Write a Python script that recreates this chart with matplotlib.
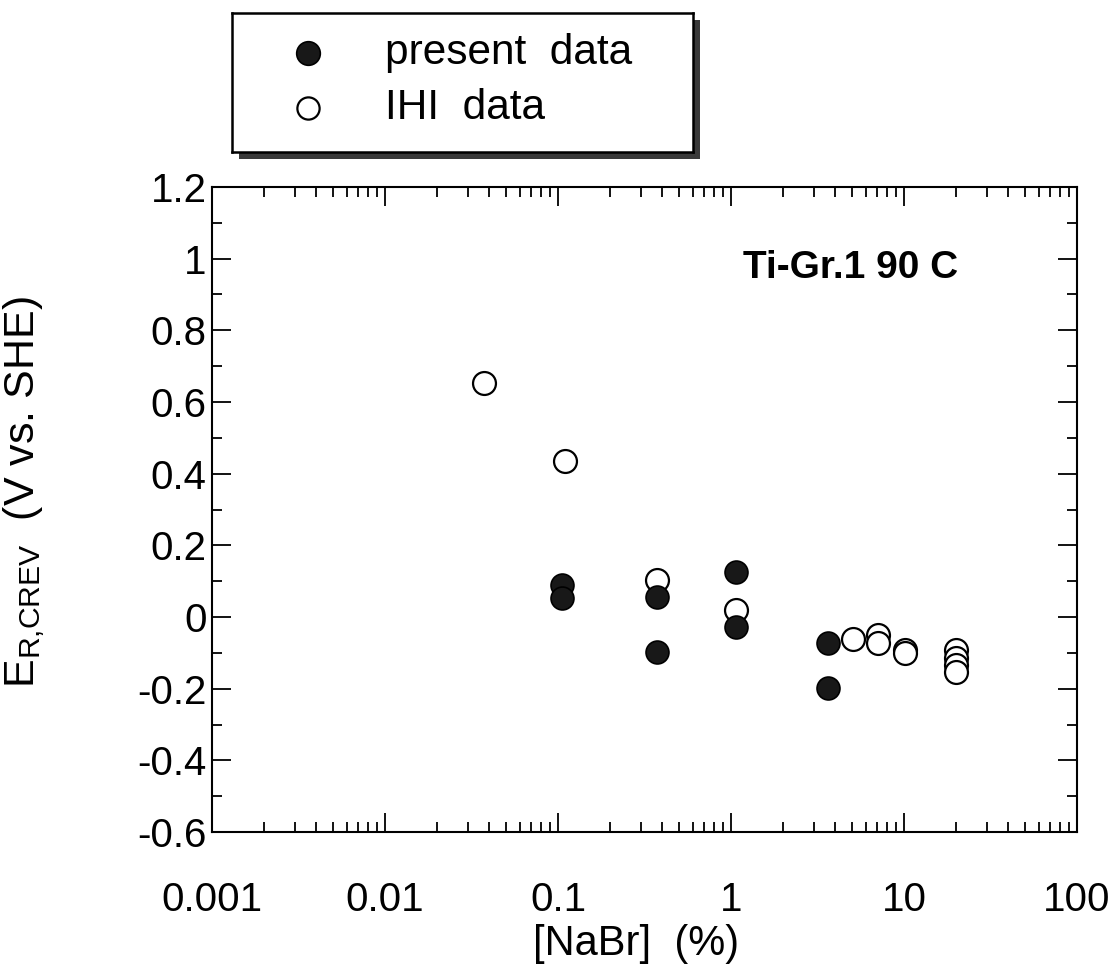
import matplotlib
matplotlib.use("Agg")
import matplotlib.pyplot as plt
import numpy as np
from matplotlib.ticker import LogLocator, NullFormatter, MultipleLocator
from matplotlib.patches import Rectangle

plt.rcParams['font.family'] = ['Liberation Sans', 'DejaVu Sans']

present_x = [0.105, 0.105, 0.373, 0.373, 1.07, 1.07, 3.64, 3.64]
present_y = [0.089, 0.053, 0.056, -0.098, 0.126, -0.028, -0.073, -0.198]

ihi_x = [0.0373, 0.11, 0.373, 1.07, 5.07, 7.08, 7.08, 10.1, 10.1, 19.9, 19.9, 19.9, 19.9]
ihi_y = [0.654, 0.436, 0.103, 0.020, -0.061, -0.050, -0.073, -0.092, -0.100, -0.092, -0.115, -0.134, -0.154]

xticks = [0.001, 0.01, 0.1, 1, 10, 100]
xticklabels = ['0.001', '0.01', '0.1', '1', '10', '100']
yticks = [-0.6, -0.4, -0.2, 0, 0.2, 0.4, 0.6, 0.8, 1, 1.2]
yticklabels = ['-0.6', '-0.4', '-0.2', '0', '0.2', '0.4', '0.6', '0.8', '1', '1.2']

legend_labels = ['present  data', 'IHI  data']

W, H = 1120, 968
fig = plt.figure(figsize=(W / 100, H / 100), dpi=100)
ax = fig.add_axes([212 / W, 1 - 832 / H, 865 / W, 645 / H])

ax.plot(ihi_x, ihi_y, 'o', ms=16.5, mfc='white', mec='black', mew=1.6, ls='none', zorder=3)
ax.plot(present_x, present_y, 'o', ms=16.5, mfc='#181818', mec='black', mew=1.2, ls='none', zorder=4)

ax.set_xscale('log')
ax.set_xlim(0.001, 100)
ax.set_ylim(-0.6, 1.2)
ax.set_xticks(xticks)
ax.set_xticklabels(xticklabels)
ax.xaxis.set_minor_locator(LogLocator(base=10, subs=np.arange(2, 10), numticks=20))
ax.xaxis.set_minor_formatter(NullFormatter())
ax.set_yticks(yticks)
ax.set_yticklabels(yticklabels)
ax.yaxis.set_minor_locator(MultipleLocator(0.1))

ax.tick_params(which='both', direction='in', top=True, right=True, labelsize=29, width=1.3)
ax.tick_params(which='major', length=14)
ax.tick_params(which='minor', length=7)
ax.tick_params(axis='x', pad=35)
ax.tick_params(axis='y', pad=4)
for s in ax.spines.values():
    s.set_linewidth(1.5)

ax.set_xlabel('[NaBr]  (%)', fontsize=30)
ax.xaxis.set_label_coords(0.49, (832 - 964) / 645, transform=ax.transAxes)
ax.xaxis.label.set_va('bottom')
ax.set_ylabel(r'E$_{\mathregular{R{,}CREV}}$  (V vs. SHE)', fontsize=31)
ax.yaxis.set_label_coords((47 - 212) / 865, 1 - (492 - 187) / 645)

ax.text((958 - 212) / 865, 1 - (268 - 187) / 645, 'Ti-Gr.1 90 C', transform=ax.transAxes,
        fontsize=28, fontweight='bold', ha='right', va='center')

# legend box (drawn manually to match placement)
lx0, lx1, ly0, ly1 = 232, 693, 13, 152
shadow = Rectangle(((lx0 + 7) / W, 1 - (ly1 + 7) / H), (lx1 - lx0) / W, (ly1 - ly0) / H,
                   transform=fig.transFigure, facecolor='#3a3a3a', edgecolor='none', zorder=1)
fig.patches.append(shadow)
lax = fig.add_axes([lx0 / W, 1 - ly1 / H, (lx1 - lx0) / W, (ly1 - ly0) / H], zorder=2)
lax.set_xlim(0, 1)
lax.set_ylim(0, 1)
lax.set_xticks([])
lax.set_yticks([])
for s in lax.spines.values():
    s.set_linewidth(1.8)
rows_y = [1 - (53 - ly0) / (ly1 - ly0), 1 - (108 - ly0) / (ly1 - ly0)]
mx = (308 - lx0) / (lx1 - lx0)
tx = (385 - lx0) / (lx1 - lx0)
lax.plot([mx], [rows_y[0]], 'o', ms=17, mfc='#181818', mec='black', mew=1.2)
lax.plot([mx], [rows_y[1]], 'o', ms=16, mfc='white', mec='black', mew=1.6)
for yy, lab in zip(rows_y, legend_labels):
    lax.text(tx, yy, lab, fontsize=30.5, ha='left', va='center')

fig.savefig('out.png', dpi=100, facecolor='white')
